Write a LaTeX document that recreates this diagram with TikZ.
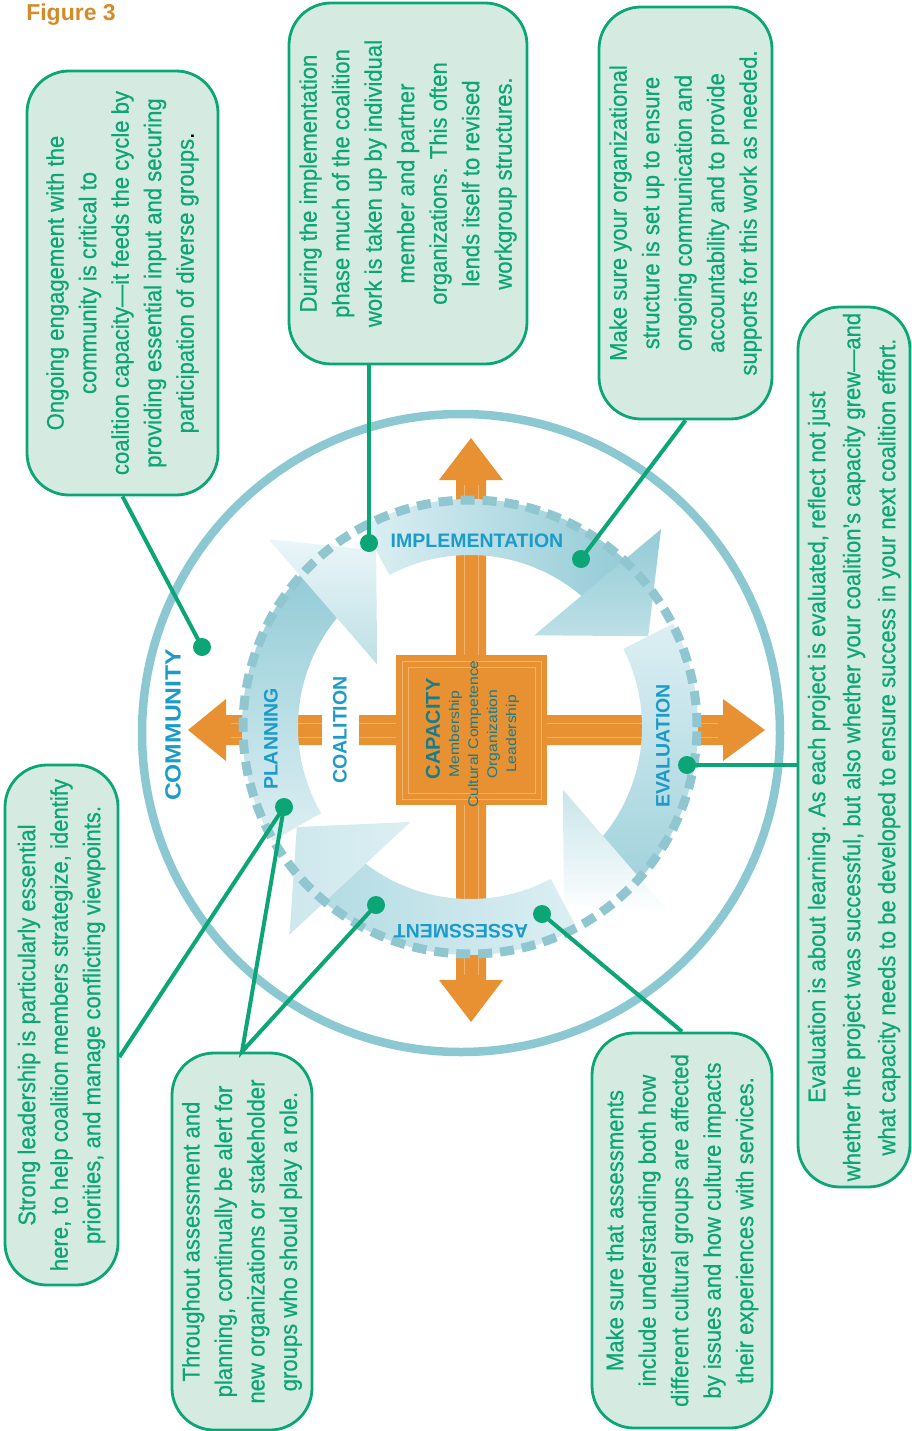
\documentclass[tikz,border=0pt]{standalone}
\usepackage{fontspec}
\setmainfont{Liberation Sans}
\newfontfamily\notefont[FakeStretch=0.92, FakeBold=0.6]{Liberation Sans}
\newfontfamily\widefont[FakeStretch=1.12]{Liberation Sans}
\usetikzlibrary{calc}
\definecolor{notegreen}{RGB}{12,166,118}
\definecolor{notefill}{RGB}{213,235,225}
\definecolor{ringblue}{RGB}{140,200,210}
\definecolor{dashblue}{RGB}{143,198,207}
\definecolor{bandlight}{RGB}{220,239,243}
\definecolor{banddark}{RGB}{146,203,214}
\definecolor{crossorange}{RGB}{232,145,50}
\definecolor{labelblue}{RGB}{28,155,200}
\definecolor{capteal}{RGB}{22,125,140}
\definecolor{titlegold}{RGB}{212,138,40}

\begin{document}
\begin{tikzpicture}[x=1pt, y=1pt,
  note/.style={draw=notegreen, line width=2.8pt, fill=notefill, rounded corners=42pt,
    rotate=90, align=center, text=notegreen, inner sep=0pt,
    font=\notefont\fontsize{24}{32.5}\selectfont},
  dot/.style={circle, fill=notegreen, inner sep=0pt, minimum size=18pt},
  link/.style={draw=notegreen, line width=4pt},
  phase/.style={font=\bfseries\fontsize{19.5}{22}\selectfont, text=labelblue, inner sep=1pt}]
  \useasboundingbox (0,0) rectangle (911,-1431);
  \node[font=\bfseries\fontsize{23}{26}\selectfont, text=titlegold] (title) at (71,-15) {Figure 3};

  % Draw the outer community ring
  \draw[ringblue, line width=8.5pt] (461,-733) circle[radius=319];

  % Draw the capacity cross
  \fill[crossorange] (456,-480) -- (439,-480) -- (471,-438) -- (503,-480) -- (486,-480)
    -- (486,-715) -- (723,-715) -- (723,-699) -- (765,-730) -- (723,-761) -- (723,-745)
    -- (486,-745) -- (486,-980) -- (503,-980) -- (471,-1022) -- (439,-980) -- (456,-980)
    -- (456,-745) -- (226,-745) -- (226,-761) -- (188,-730) -- (226,-699) -- (226,-715)
    -- (456,-715) -- cycle;
  \fill[crossorange] (396,-655) rectangle (547,-805);
  \draw[crossorange!70!white, line width=0.7pt] (402,-661) rectangle (541,-799)
    (408,-667) rectangle (535,-793) (464,-485) -- (464,-655) (478,-485) -- (478,-655)
    (464,-805) -- (464,-975) (478,-805) -- (478,-975) (231,-723) -- (396,-723)
    (231,-737) -- (396,-737) (547,-723) -- (718,-723) (547,-737) -- (718,-737);

  % Draw the coalition cycle
  \begin{scope}[shift={(470,-727)}]
    \shade[left color=bandlight, right color=banddark]
      (118:228) arc[start angle=118, end angle=45, radius=228]
      -- (45:172) arc[start angle=45, end angle=118, radius=172] -- cycle;
    \shade[top color=bandlight, bottom color=banddark!80!bandlight]
      (27:228) arc[start angle=27, end angle=-44, radius=228]
      -- (-44:172) arc[start angle=-44, end angle=27, radius=172] -- cycle;
    \shade[right color=bandlight, left color=banddark!55!bandlight]
      (-62:228) arc[start angle=-62, end angle=-132, radius=228]
      -- (-132:172) arc[start angle=-132, end angle=-62, radius=172] -- cycle;
    \shade[bottom color=bandlight, top color=banddark]
      (210:228) arc[start angle=210, end angle=136, radius=228]
      -- (136:172) arc[start angle=136, end angle=210, radius=172] -- cycle;
    \shade[top color=banddark, bottom color=banddark!60!white] (46:275) -- (27:200) -- (55:112) -- cycle;
    \shade[top color=banddark!50!white, bottom color=white] (-43:275) -- (-62:200) -- (-34:112) -- cycle;
    \shade[right color=bandlight, left color=banddark!45!white] (-131:275) -- (-150:200) -- (-122:112) -- cycle;
    \shade[top color=bandlight!60!white, bottom color=banddark!60!white] (137:275) -- (118:200) -- (146:112) -- cycle;
    \draw[dashblue, line width=9pt, dash pattern=on 14pt off 8pt] (0,0) circle[radius=227];
  \end{scope}

  % Ring labels
  \node[phase, rotate=90, font=\widefont\bfseries\fontsize{22}{24}\selectfont] (community label) at (173,-725) {COMMUNITY};
  \node[phase, rotate=90] (planning) at (271,-739) {PLANNING};
  \node[phase, rotate=90, fill=white, minimum height=37pt] (coalition) at (340,-730) {COALITION};
  \node[phase] (implementation) at (477,-541) {IMPLEMENTATION};
  \node[phase, rotate=90] (evaluation) at (663,-746) {EVALUATION};
  \node[phase, rotate=180] (assessment) at (461,-931) {ASSESSMENT};
  \node[rotate=90, font=\bfseries\fontsize{20}{22}\selectfont, text=capteal, inner sep=0pt] (capacity) at (433,-729) {CAPACITY};
  \node[rotate=90, align=center, font=\widefont\fontsize{14}{19}\selectfont, text=capteal, inner sep=0pt] (items) at (484,-734)
    {Membership\\Cultural Competence\\Organization\\Leadership};

  % Call-out boxes
  \node[note, minimum width=424pt, minimum height=191pt] (community) at (122.5,-283)
    {Ongoing engagement with the\\community is critical to\\coalition capacity—it feeds the cycle by\\providing essential input and securing\\participation of diverse groups{\color{black}.}};
  \node[note, minimum width=361pt, minimum height=238pt] (impl) at (408,-183.5)
    {During the implementation\\phase much of the coalition\\work is taken up by individual\\member and partner\\organizations. This often\\lends itself to revised\\workgroup structures.};
  \node[note, minimum width=412pt, minimum height=173pt] (org) at (685.5,-213)
    {Make sure your organizational\\structure is set up to ensure\\ongoing communication and\\accountability and to provide\\supports for this work as needed.};
  \node[note, minimum width=880pt, minimum height=112pt, font=\notefont\fontsize{24}{35}\selectfont] (eval) at (854,-747)
    {Evaluation is about learning. As each project is evaluated, reflect not just\\whether the project was successful, but also whether your coalition’s capacity grew—and\\what capacity needs to be developed to ensure success in your next coalition effort.};
  \node[note, minimum width=520pt, minimum height=113pt] (lead) at (61.5,-1025)
    {Strong leadership is particularly essential\\here, to help coalition members strategize, identify\\priorities, and manage conflicting viewpoints.};
  \node[note, minimum width=377pt, minimum height=140pt] (thr) at (242,-1241.5)
    {Throughout assessment and\\planning, continually be alert for\\new organizations or stakeholder\\groups who should play a role.};
  \node[note, minimum width=395pt, minimum height=180pt] (assess) at (682,-1230.5)
    {Make sure that assessments\\include understanding both how\\different cultural groups are affected\\by issues and how culture impacts\\their experiences with services.};

  % Draw the pointers
  \node[dot] (dcomm) at (202,-647) {};
  \node[dot] (dimpl) at (369,-543) {};
  \node[dot] (dorg) at (581,-559) {};
  \node[dot] (deval) at (687,-765) {};
  \node[dot] (dassr) at (542,-914) {};
  \node[dot] (dassl) at (376,-905) {};
  \node[dot] (dplan) at (284,-807) {};
  \draw[link] (dcomm.center) -- (community.west);
  \draw[link] (dimpl.center) -- (dimpl |- impl.west);
  \draw[link] (dorg.center) -- (org.west);
  \draw[link] (deval.center) -- (eval.north |- deval);
  \draw[link] (dplan.center) -- ([yshift=-32pt]lead.south);
  \draw[link] (dplan.center) -- (thr.east) -- (dassl.center);
  \draw[link] (dassr.center) -- (assess.east);
\end{tikzpicture}
\end{document}
